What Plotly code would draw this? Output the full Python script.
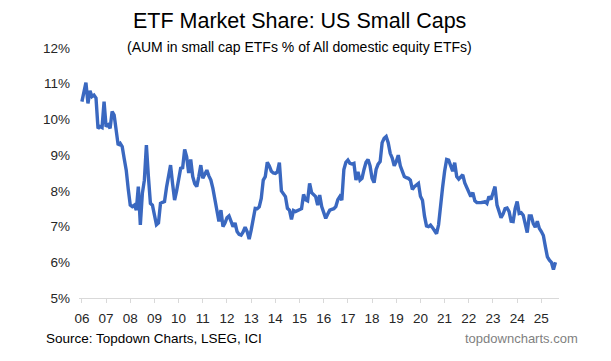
import plotly.graph_objects as go

# Monthly AUM share (%), Jan 2006 .. Aug 2025
start_year = 2006
values_2006 = [10.50, 10.75, 11.03, 10.45, 10.80, 10.64, 10.68, 10.60, 9.75, 9.80, 9.77, 10.50]
values_2007 = [9.80, 9.85, 9.75, 10.22, 10.12, 9.70, 9.28, 9.33, 9.24, 8.90, 8.58, 8.05]
values_2008 = [7.60, 7.56, 7.60, 7.46, 8.12, 7.05, 7.93, 8.30, 9.28, 8.40, 7.65, 7.60]
values_2009 = [7.30, 7.05, 7.10, 7.65, 7.68, 7.70, 8.10, 8.45, 8.72, 8.20, 7.74, 8.00]
values_2010 = [8.40, 8.63, 8.65, 9.16, 8.95, 8.50, 8.88, 8.40, 8.20, 8.12, 8.40, 8.72]
values_2011 = [8.35, 8.45, 8.58, 8.42, 8.30, 8.07, 7.75, 7.40, 7.14, 7.46, 7.00, 7.10]
values_2012 = [7.25, 7.30, 7.15, 7.00, 7.10, 6.86, 6.78, 6.76, 6.85, 6.98, 6.86, 6.65]
values_2013 = [6.90, 7.20, 7.51, 7.50, 7.55, 7.79, 8.30, 8.40, 8.80, 8.70, 8.55, 8.50]
values_2014 = [8.49, 8.53, 8.79, 8.00, 7.90, 7.84, 7.51, 7.46, 7.20, 7.45, 7.42, 7.45]
values_2015 = [7.46, 7.50, 7.90, 7.75, 7.72, 8.21, 7.95, 7.88, 7.84, 7.60, 7.88, 7.56]
values_2016 = [7.40, 7.23, 7.35, 7.46, 7.48, 7.50, 7.56, 7.75, 7.84, 7.74, 8.60, 8.80]
values_2017 = [8.86, 8.77, 8.75, 8.77, 8.30, 8.53, 8.30, 8.35, 8.60, 8.80, 8.88, 8.70]
values_2018 = [8.35, 8.23, 8.60, 8.75, 8.82, 9.35, 9.47, 9.52, 9.35, 9.05, 8.92, 8.70]
values_2019 = [8.82, 9.00, 8.70, 8.55, 8.40, 8.37, 8.35, 8.30, 8.04, 8.12, 8.18, 8.21]
values_2020 = [7.85, 7.74, 7.30, 7.02, 7.00, 7.04, 6.97, 6.90, 6.80, 7.05, 7.70, 8.10]
values_2021 = [8.55, 8.88, 8.86, 8.70, 8.55, 8.79, 8.40, 8.33, 8.40, 8.45, 8.22, 8.10]
values_2022 = [7.93, 7.84, 7.95, 7.72, 7.67, 7.66, 7.67, 7.68, 7.70, 7.65, 7.84, 7.76]
values_2023 = [7.93, 8.12, 7.60, 7.38, 7.25, 7.35, 7.50, 7.52, 7.42, 7.15, 7.14, 7.50]
values_2024 = [7.70, 7.37, 7.39, 7.32, 7.10, 6.83, 7.30, 7.30, 7.08, 6.98, 7.15, 6.95]
values_2025 = [6.86, 6.75, 6.44, 6.15, 6.06, 6.00, 5.80, 6.00]

share = (values_2006 + values_2007 + values_2008 + values_2009 + values_2010 +
         values_2011 + values_2012 + values_2013 + values_2014 + values_2015 +
         values_2016 + values_2017 + values_2018 + values_2019 + values_2020 +
         values_2021 + values_2022 + values_2023 + values_2024 + values_2025)
x_time = [start_year + i / 12 for i in range(len(share))]

tick_years = list(range(2006, 2026))
tick_labels = ["06", "07", "08", "09", "10", "11", "12", "13", "14", "15",
               "16", "17", "18", "19", "20", "21", "22", "23", "24", "25"]
y_ticks = [5, 6, 7, 8, 9, 10, 11, 12]
y_tick_labels = ["5%", "6%", "7%", "8%", "9%", "10%", "11%", "12%"]

title = "ETF Market Share: US Small Caps"
subtitle = "(AUM in small cap ETFs % of All domestic equity ETFs)"
source = "Source: Topdown Charts, LSEG, ICI"
site = "topdowncharts.com"

FONT = "Liberation Sans, Arial, sans-serif"

# page has an 8px body margin; figure coordinates are page coordinates - 8
W, Hfig = 603, 353
L, T = 71, 40
R = W - 551.3
B = Hfig - 290
PW = W - L - R
PH = Hfig - T - B

def px(pix):
    return (pix - L) / PW

def py(pix):
    return (Hfig - B - pix) / PH

fig = go.Figure()
fig.add_trace(go.Scatter(
    x=x_time, y=share, mode="lines",
    line=dict(color="#3A68C0", width=3.4),
    hoverinfo="skip", showlegend=False,
))

fig.update_layout(
    width=W, height=Hfig,
    margin=dict(l=L, r=R, t=T, b=B, pad=0),
    paper_bgcolor="white", plot_bgcolor="white",
    font=dict(family=FONT, color="#262626", size=13),
    xaxis=dict(
        range=[2006 - 0.12, 2025.73],
        tickmode="array", tickvals=tick_years, ticktext=tick_labels,
        showgrid=False, zeroline=False,
        showline=True, linecolor="#D9D9D9", linewidth=1.2,
        ticks="outside", ticklen=4, tickcolor="#D9D9D9", tickwidth=1.2,
        tickfont=dict(size=13.5, color="#262626", family=FONT),
        ticklabelstandoff=4, automargin=False,
    ),
    yaxis=dict(
        range=[5, 12],
        tickmode="array", tickvals=y_ticks, ticktext=y_tick_labels,
        showgrid=False, zeroline=False, showline=False, ticks="",
        tickfont=dict(size=13.5, color="#262626", family=FONT),
        ticklabelstandoff=8, automargin=False,
    ),
    annotations=[
        dict(text=title, x=px(292), xref="paper", y=py(13), yref="paper",
             showarrow=False, xanchor="center", yanchor="middle",
             font=dict(size=21.5, color="#000000", family=FONT)),
        dict(text=subtitle, x=px(292), xref="paper", y=py(39), yref="paper",
             showarrow=False, xanchor="center", yanchor="middle",
             font=dict(size=14, color="#000000", family=FONT)),
        dict(text=source, x=px(36), xref="paper", y=py(330), yref="paper",
             showarrow=False, xanchor="left", yanchor="middle",
             font=dict(size=13.5, color="#000000", family=FONT)),
        dict(text=site, x=px(572), xref="paper", y=py(330), yref="paper",
             showarrow=False, xanchor="right", yanchor="middle",
             font=dict(size=13, color="#7F7F7F", family=FONT)),
    ],
)

fig.write_html("out.html")
